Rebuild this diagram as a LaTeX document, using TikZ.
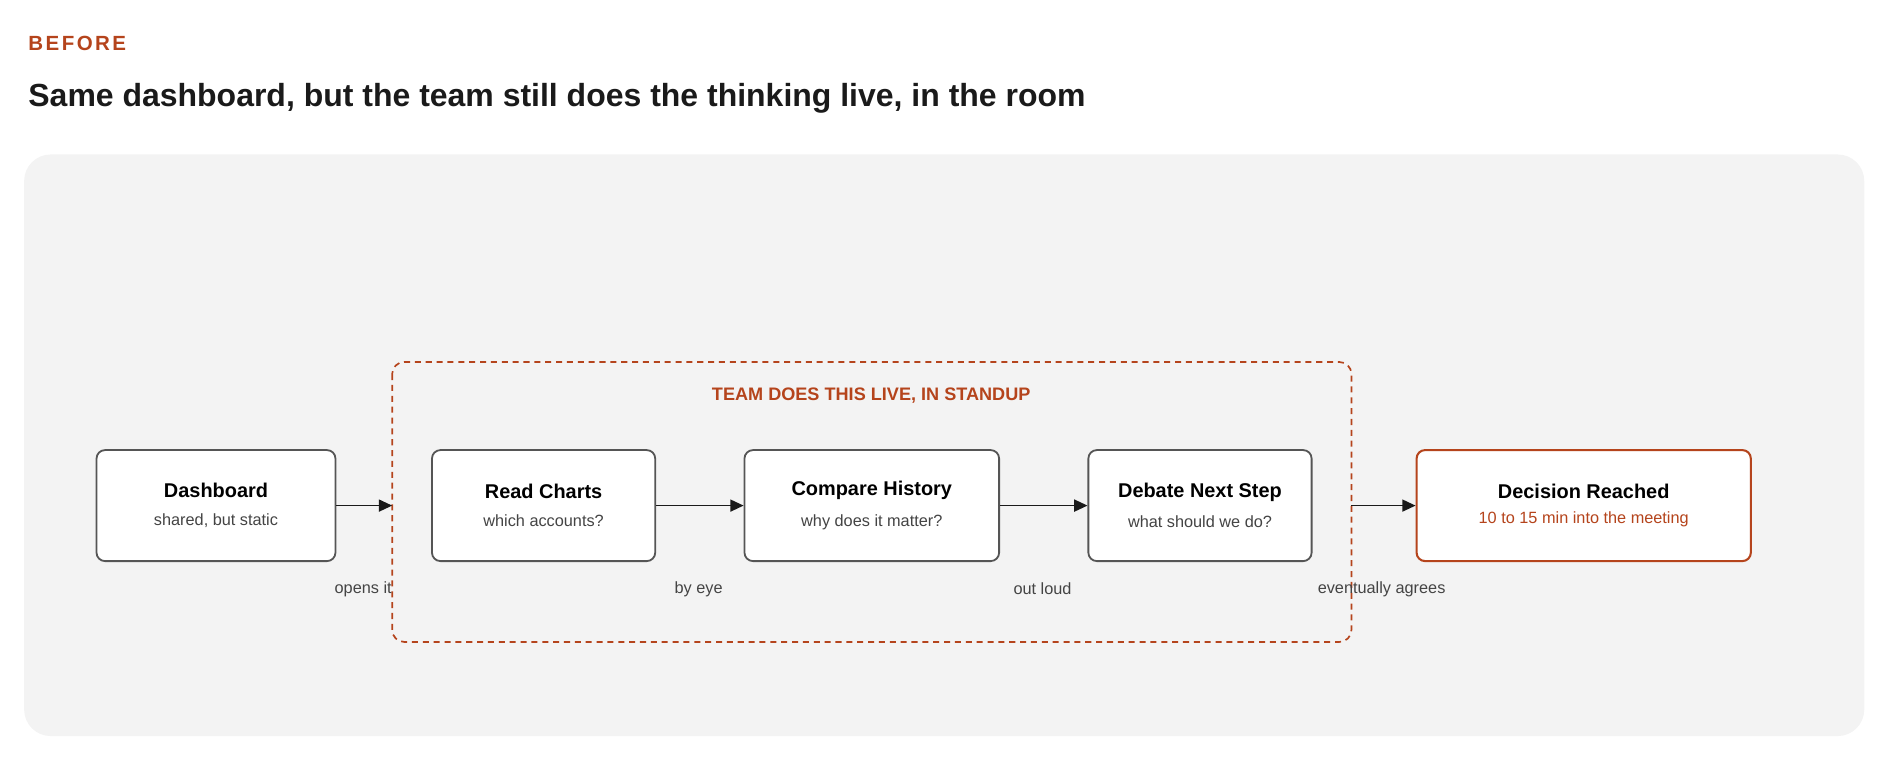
\documentclass[tikz,border=0pt]{standalone}
\usepackage{fontspec}
\setmainfont{Liberation Sans}
\usetikzlibrary{arrows.meta}
\definecolor{accent}{HTML}{B5441C}
\definecolor{bg}{HTML}{F3F3F3}
\definecolor{ink}{HTML}{1A1A1A}
\definecolor{sub}{HTML}{444444}
\definecolor{edge}{HTML}{555555}
\begin{document}
\begin{tikzpicture}[x=1pt,y=-1pt,
  box/.style={draw=edge,line width=1.5pt,fill=white,rounded corners=7pt,minimum height=92pt,inner sep=0pt},
  hot/.style={box,draw=accent,line width=1.7pt},
  arr/.style={-{Triangle[length=11pt,width=10pt]},ink,line width=1.2pt},
  lab/.style={font=\fontsize{13.5}{16}\selectfont,text=sub}]
\useasboundingbox (0,0) rectangle (1568,630);
\node[anchor=base west,text=accent,font=\fontsize{17}{20}\selectfont\bfseries\addfontfeatures{LetterSpace=12}] (before) at (20,42) {BEFORE};
\node[anchor=base west,text=ink,font=\fontsize{26.5}{30}\selectfont\bfseries] (title) at (20,88) {Same dashboard, but the team still does the thinking live, in the room};
\fill[bg,rounded corners=22pt] (20,128) rectangle (1545,610);
\draw[accent,line width=1.4pt,dash pattern=on 5pt off 4pt,rounded corners=10pt] (325,300) rectangle (1120,532);
\node[text=accent,font=\fontsize{15}{17}\selectfont\bfseries] (grp) at (722,328) {TEAM DOES THIS LIVE, IN STANDUP};
\coordinate (gl) at (325,419);
\coordinate (gr) at (1120,419);
\node[box,minimum width=198pt,align=center] (dash) at (179,419) {{\fontsize{16.5}{20}\selectfont\bfseries Dashboard}\\[11pt]{\fontsize{13.5}{16}\selectfont\color{sub}shared, but static}};
\node[box,minimum width=185pt,align=center] (read) at (450.5,419) {{\fontsize{16.5}{20}\selectfont\bfseries Read Charts}\\[11pt]{\fontsize{13.5}{16}\selectfont\color{sub}which accounts?}};
\node[box,minimum width=211pt,align=center] (comp) at (722.5,419) {{\fontsize{16.5}{20}\selectfont\bfseries Compare History}\\[11pt]{\fontsize{13.5}{16}\selectfont\color{sub}why does it matter?}};
\node[box,minimum width=185pt,align=center] (deb) at (994.5,419) {{\fontsize{16.5}{20}\selectfont\bfseries Debate Next Step}\\[11pt]{\fontsize{13.5}{16}\selectfont\color{sub}what should we do?}};
\node[hot,minimum width=277pt,align=center] (dec) at (1312.5,419) {{\fontsize{16.5}{20}\selectfont\bfseries Decision Reached}\\[9pt]{\fontsize{13.5}{16}\selectfont\color{accent}10 to 15 min into the meeting}};
\draw[arr] (dash) -- (gl);
\draw[arr] (read) -- (comp);
\draw[arr] (comp) -- (deb);
\draw[arr] (gr) -- (dec);
\node[lab] (l1) at (301,488) {opens it};
\node[lab] (l2) at (579,488) {by eye};
\node[lab] (l3) at (864,488) {out loud};
\node[lab] (l4) at (1145,488) {eventually agrees};
\end{tikzpicture}
\end{document}
